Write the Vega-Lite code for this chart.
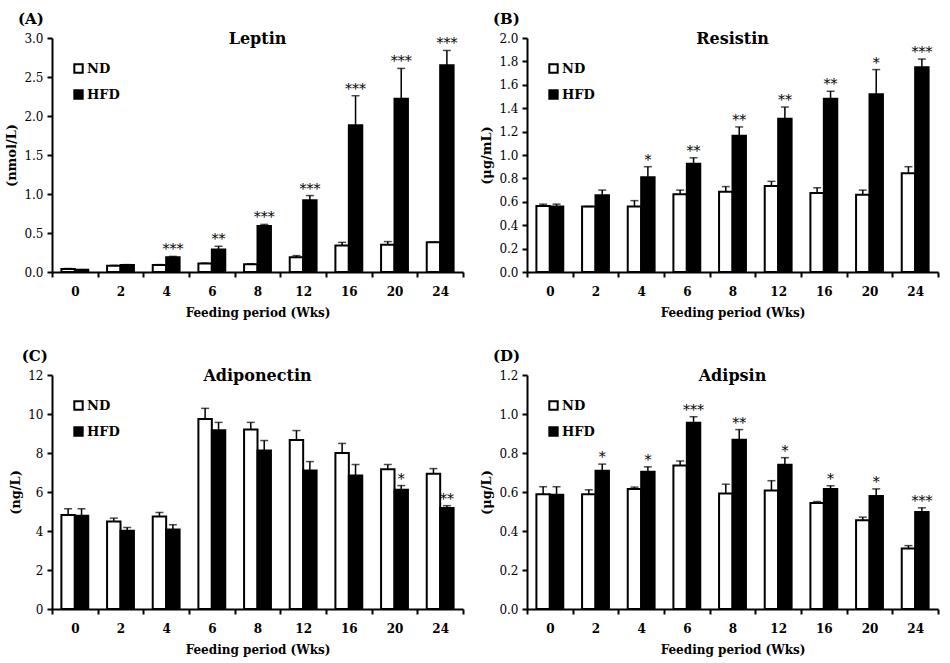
{
  "$schema": "https://vega.github.io/schema/vega-lite/v6.json",
  "background": "white",
  "padding": {"left": 5, "top": 12, "right": 5, "bottom": 2},
  "datasets": {
    "leptin": [
      {"wk": 0, "grp": "ND", "mean": 0.04, "upper": 0.045, "sig": ""},
      {"wk": 0, "grp": "HFD", "mean": 0.03, "upper": 0.03, "sig": ""},
      {"wk": 2, "grp": "ND", "mean": 0.08, "upper": 0.085, "sig": ""},
      {"wk": 2, "grp": "HFD", "mean": 0.09, "upper": 0.095, "sig": ""},
      {"wk": 4, "grp": "ND", "mean": 0.09, "upper": 0.095, "sig": ""},
      {"wk": 4, "grp": "HFD", "mean": 0.19, "upper": 0.2, "sig": "***"},
      {"wk": 6, "grp": "ND", "mean": 0.11, "upper": 0.115, "sig": ""},
      {"wk": 6, "grp": "HFD", "mean": 0.29, "upper": 0.33, "sig": "**"},
      {"wk": 8, "grp": "ND", "mean": 0.1, "upper": 0.105, "sig": ""},
      {"wk": 8, "grp": "HFD", "mean": 0.59, "upper": 0.61, "sig": "***"},
      {"wk": 12, "grp": "ND", "mean": 0.19, "upper": 0.21, "sig": ""},
      {"wk": 12, "grp": "HFD", "mean": 0.92, "upper": 0.98, "sig": "***"},
      {"wk": 16, "grp": "ND", "mean": 0.34, "upper": 0.38, "sig": ""},
      {"wk": 16, "grp": "HFD", "mean": 1.88, "upper": 2.26, "sig": "***"},
      {"wk": 20, "grp": "ND", "mean": 0.35, "upper": 0.39, "sig": ""},
      {"wk": 20, "grp": "HFD", "mean": 2.22, "upper": 2.61, "sig": "***"},
      {"wk": 24, "grp": "ND", "mean": 0.38, "upper": 0.385, "sig": ""},
      {"wk": 24, "grp": "HFD", "mean": 2.65, "upper": 2.84, "sig": "***"}
    ],
    "resistin": [
      {"wk": 0, "grp": "ND", "mean": 0.565, "upper": 0.58, "sig": ""},
      {"wk": 0, "grp": "HFD", "mean": 0.56, "upper": 0.58, "sig": ""},
      {"wk": 2, "grp": "ND", "mean": 0.56, "upper": 0.56, "sig": ""},
      {"wk": 2, "grp": "HFD", "mean": 0.655, "upper": 0.7, "sig": ""},
      {"wk": 4, "grp": "ND", "mean": 0.56, "upper": 0.61, "sig": ""},
      {"wk": 4, "grp": "HFD", "mean": 0.81, "upper": 0.9, "sig": "*"},
      {"wk": 6, "grp": "ND", "mean": 0.665, "upper": 0.7, "sig": ""},
      {"wk": 6, "grp": "HFD", "mean": 0.925, "upper": 0.976, "sig": "**"},
      {"wk": 8, "grp": "ND", "mean": 0.685, "upper": 0.73, "sig": ""},
      {"wk": 8, "grp": "HFD", "mean": 1.165, "upper": 1.24, "sig": "**"},
      {"wk": 12, "grp": "ND", "mean": 0.735, "upper": 0.775, "sig": ""},
      {"wk": 12, "grp": "HFD", "mean": 1.31, "upper": 1.41, "sig": "**"},
      {"wk": 16, "grp": "ND", "mean": 0.675, "upper": 0.72, "sig": ""},
      {"wk": 16, "grp": "HFD", "mean": 1.48, "upper": 1.545, "sig": "**"},
      {"wk": 20, "grp": "ND", "mean": 0.66, "upper": 0.7, "sig": ""},
      {"wk": 20, "grp": "HFD", "mean": 1.52, "upper": 1.73, "sig": "*"},
      {"wk": 24, "grp": "ND", "mean": 0.845, "upper": 0.9, "sig": ""},
      {"wk": 24, "grp": "HFD", "mean": 1.75, "upper": 1.82, "sig": "***"}
    ],
    "adiponectin": [
      {"wk": 0, "grp": "ND", "mean": 4.82, "upper": 5.14, "sig": ""},
      {"wk": 0, "grp": "HFD", "mean": 4.78, "upper": 5.14, "sig": ""},
      {"wk": 2, "grp": "ND", "mean": 4.49, "upper": 4.66, "sig": ""},
      {"wk": 2, "grp": "HFD", "mean": 4.01, "upper": 4.18, "sig": ""},
      {"wk": 4, "grp": "ND", "mean": 4.75, "upper": 4.95, "sig": ""},
      {"wk": 4, "grp": "HFD", "mean": 4.08, "upper": 4.32, "sig": ""},
      {"wk": 6, "grp": "ND", "mean": 9.74, "upper": 10.29, "sig": ""},
      {"wk": 6, "grp": "HFD", "mean": 9.17, "upper": 9.57, "sig": ""},
      {"wk": 8, "grp": "ND", "mean": 9.2, "upper": 9.57, "sig": ""},
      {"wk": 8, "grp": "HFD", "mean": 8.13, "upper": 8.64, "sig": ""},
      {"wk": 12, "grp": "ND", "mean": 8.67, "upper": 9.15, "sig": ""},
      {"wk": 12, "grp": "HFD", "mean": 7.1, "upper": 7.56, "sig": ""},
      {"wk": 16, "grp": "ND", "mean": 8.0, "upper": 8.49, "sig": ""},
      {"wk": 16, "grp": "HFD", "mean": 6.84, "upper": 7.41, "sig": ""},
      {"wk": 20, "grp": "ND", "mean": 7.17, "upper": 7.41, "sig": ""},
      {"wk": 20, "grp": "HFD", "mean": 6.12, "upper": 6.33, "sig": "*"},
      {"wk": 24, "grp": "ND", "mean": 6.93, "upper": 7.2, "sig": ""},
      {"wk": 24, "grp": "HFD", "mean": 5.18, "upper": 5.3, "sig": "**"}
    ],
    "adipsin": [
      {"wk": 0, "grp": "ND", "mean": 0.589, "upper": 0.627, "sig": ""},
      {"wk": 0, "grp": "HFD", "mean": 0.586, "upper": 0.627, "sig": ""},
      {"wk": 2, "grp": "ND", "mean": 0.589, "upper": 0.611, "sig": ""},
      {"wk": 2, "grp": "HFD", "mean": 0.709, "upper": 0.743, "sig": "*"},
      {"wk": 4, "grp": "ND", "mean": 0.615, "upper": 0.625, "sig": ""},
      {"wk": 4, "grp": "HFD", "mean": 0.704, "upper": 0.729, "sig": "*"},
      {"wk": 6, "grp": "ND", "mean": 0.736, "upper": 0.759, "sig": ""},
      {"wk": 6, "grp": "HFD", "mean": 0.955, "upper": 0.986, "sig": "***"},
      {"wk": 8, "grp": "ND", "mean": 0.592, "upper": 0.64, "sig": ""},
      {"wk": 8, "grp": "HFD", "mean": 0.868, "upper": 0.92, "sig": "**"},
      {"wk": 12, "grp": "ND", "mean": 0.608, "upper": 0.658, "sig": ""},
      {"wk": 12, "grp": "HFD", "mean": 0.74, "upper": 0.776, "sig": "*"},
      {"wk": 16, "grp": "ND", "mean": 0.543, "upper": 0.551, "sig": ""},
      {"wk": 16, "grp": "HFD", "mean": 0.615, "upper": 0.632, "sig": "*"},
      {"wk": 20, "grp": "ND", "mean": 0.455, "upper": 0.471, "sig": ""},
      {"wk": 20, "grp": "HFD", "mean": 0.58, "upper": 0.616, "sig": "*"},
      {"wk": 24, "grp": "ND", "mean": 0.31, "upper": 0.325, "sig": ""},
      {"wk": 24, "grp": "HFD", "mean": 0.498, "upper": 0.519, "sig": "***"}
    ]
  },
  "spacing": 31,
  "resolve": {"scale": {"y": "independent", "fill": "independent", "x": "independent", "xOffset": "independent"}, "legend": {"fill": "independent"}, "axis": {"x": "independent", "y": "independent"}},
  "vconcat": [
    {
      "spacing": 16,
      "resolve": {"scale": {"y": "independent", "fill": "independent", "x": "independent", "xOffset": "independent"}, "legend": {"fill": "independent"}, "axis": {"x": "independent", "y": "independent"}},
      "hconcat": [
        {
          "title": {"text": "\u00a0\u00a0\u00a0(A)", "anchor": "start", "frame": "bounds", "dx": 12, "fontSize": 15, "offset": 4},
          "vconcat": [
            {
              "width": 411, "height": 234,
              "title": {"text": "Leptin", "anchor": "middle", "offset": -15, "fontSize": 16},
              "data": {"name": "leptin"},
              "encoding": {
                "x": {"field": "wk", "type": "ordinal", "scale": {"paddingInner": 0, "paddingOuter": 0}, "axis": {"title": "Feeding period (Wks)"}},
                "xOffset": {"field": "grp", "type": "nominal", "sort": ["ND", "HFD"], "scale": {"paddingInner": 0, "paddingOuter": 0.7}},
                "y": {"field": "mean", "type": "quantitative", "scale": {"domain": [0, 3]}, "axis": {"title": "(nmol/L)", "values": [0, 0.5, 1, 1.5, 2, 2.5, 3], "format": ".1f"}}
              },
              "layer": [
                {"mark": {"type": "bar", "stroke": "black", "strokeWidth": 2}, "encoding": {"fill": {"field": "grp", "type": "nominal", "sort": ["ND", "HFD"], "scale": {"domain": ["ND", "HFD"], "range": ["white", "black"]}, "legend": {"title": null, "orient": "none", "legendX": 20, "legendY": 24}}}},
                {"mark": {"type": "rule", "color": "black", "strokeWidth": 1.5}, "encoding": {"y2": {"field": "upper"}}},
                {"mark": {"type": "tick", "color": "black", "size": 8, "thickness": 1.5, "orient": "horizontal"}, "encoding": {"y": {"field": "upper", "type": "quantitative"}}},
                {"mark": {"type": "text", "fontSize": 14, "baseline": "alphabetic", "dy": -2, "fill": "black"}, "encoding": {"y": {"field": "upper", "type": "quantitative"}, "text": {"field": "sig"}}}
              ]
            }
          ]
        },
        {
          "title": {"text": "\u00a0\u00a0\u00a0(B)", "anchor": "start", "frame": "bounds", "dx": 12, "fontSize": 15, "offset": 4},
          "vconcat": [
            {
              "width": 411, "height": 234,
              "title": {"text": "Resistin", "anchor": "middle", "offset": -15, "fontSize": 16},
              "data": {"name": "resistin"},
              "encoding": {
                "x": {"field": "wk", "type": "ordinal", "scale": {"paddingInner": 0, "paddingOuter": 0}, "axis": {"title": "Feeding period (Wks)"}},
                "xOffset": {"field": "grp", "type": "nominal", "sort": ["ND", "HFD"], "scale": {"paddingInner": 0, "paddingOuter": 0.7}},
                "y": {"field": "mean", "type": "quantitative", "scale": {"domain": [0, 2]}, "axis": {"title": "(μg/mL)", "values": [0, 0.2, 0.4, 0.6, 0.8, 1, 1.2, 1.4, 1.6, 1.8, 2], "format": ".1f"}}
              },
              "layer": [
                {"mark": {"type": "bar", "stroke": "black", "strokeWidth": 2}, "encoding": {"fill": {"field": "grp", "type": "nominal", "sort": ["ND", "HFD"], "scale": {"domain": ["ND", "HFD"], "range": ["white", "black"]}, "legend": {"title": null, "orient": "none", "legendX": 20, "legendY": 24}}}},
                {"mark": {"type": "rule", "color": "black", "strokeWidth": 1.5}, "encoding": {"y2": {"field": "upper"}}},
                {"mark": {"type": "tick", "color": "black", "size": 8, "thickness": 1.5, "orient": "horizontal"}, "encoding": {"y": {"field": "upper", "type": "quantitative"}}},
                {"mark": {"type": "text", "fontSize": 14, "baseline": "alphabetic", "dy": -2, "fill": "black"}, "encoding": {"y": {"field": "upper", "type": "quantitative"}, "text": {"field": "sig"}}}
              ]
            }
          ]
        }
      ]
    },
    {
      "spacing": 16,
      "resolve": {"scale": {"y": "independent", "fill": "independent", "x": "independent", "xOffset": "independent"}, "legend": {"fill": "independent"}, "axis": {"x": "independent", "y": "independent"}},
      "hconcat": [
        {
          "title": {"text": "\u00a0\u00a0\u00a0(C)", "anchor": "start", "frame": "bounds", "dx": 12, "fontSize": 15, "offset": 4},
          "vconcat": [
            {
              "width": 411, "height": 234,
              "title": {"text": "Adiponectin", "anchor": "middle", "offset": -15, "fontSize": 16},
              "data": {"name": "adiponectin"},
              "encoding": {
                "x": {"field": "wk", "type": "ordinal", "scale": {"paddingInner": 0, "paddingOuter": 0}, "axis": {"title": "Feeding period (Wks)"}},
                "xOffset": {"field": "grp", "type": "nominal", "sort": ["ND", "HFD"], "scale": {"paddingInner": 0, "paddingOuter": 0.7}},
                "y": {"field": "mean", "type": "quantitative", "scale": {"domain": [0, 12]}, "axis": {"title": "(ng/L)", "values": [0, 2, 4, 6, 8, 10, 12], "format": "d"}}
              },
              "layer": [
                {"mark": {"type": "bar", "stroke": "black", "strokeWidth": 2}, "encoding": {"fill": {"field": "grp", "type": "nominal", "sort": ["ND", "HFD"], "scale": {"domain": ["ND", "HFD"], "range": ["white", "black"]}, "legend": {"title": null, "orient": "none", "legendX": 20, "legendY": 24}}}},
                {"mark": {"type": "rule", "color": "black", "strokeWidth": 1.5}, "encoding": {"y2": {"field": "upper"}}},
                {"mark": {"type": "tick", "color": "black", "size": 8, "thickness": 1.5, "orient": "horizontal"}, "encoding": {"y": {"field": "upper", "type": "quantitative"}}},
                {"mark": {"type": "text", "fontSize": 14, "baseline": "alphabetic", "dy": -2, "fill": "black"}, "encoding": {"y": {"field": "upper", "type": "quantitative"}, "text": {"field": "sig"}}}
              ]
            }
          ]
        },
        {
          "title": {"text": "\u00a0\u00a0\u00a0(D)", "anchor": "start", "frame": "bounds", "dx": 12, "fontSize": 15, "offset": 4},
          "vconcat": [
            {
              "width": 411, "height": 234,
              "title": {"text": "Adipsin", "anchor": "middle", "offset": -15, "fontSize": 16},
              "data": {"name": "adipsin"},
              "encoding": {
                "x": {"field": "wk", "type": "ordinal", "scale": {"paddingInner": 0, "paddingOuter": 0}, "axis": {"title": "Feeding period (Wks)"}},
                "xOffset": {"field": "grp", "type": "nominal", "sort": ["ND", "HFD"], "scale": {"paddingInner": 0, "paddingOuter": 0.7}},
                "y": {"field": "mean", "type": "quantitative", "scale": {"domain": [0, 1.2]}, "axis": {"title": "(μg/L)", "values": [0, 0.2, 0.4, 0.6, 0.8, 1, 1.2], "format": ".1f"}}
              },
              "layer": [
                {"mark": {"type": "bar", "stroke": "black", "strokeWidth": 2}, "encoding": {"fill": {"field": "grp", "type": "nominal", "sort": ["ND", "HFD"], "scale": {"domain": ["ND", "HFD"], "range": ["white", "black"]}, "legend": {"title": null, "orient": "none", "legendX": 20, "legendY": 24}}}},
                {"mark": {"type": "rule", "color": "black", "strokeWidth": 1.5}, "encoding": {"y2": {"field": "upper"}}},
                {"mark": {"type": "tick", "color": "black", "size": 8, "thickness": 1.5, "orient": "horizontal"}, "encoding": {"y": {"field": "upper", "type": "quantitative"}}},
                {"mark": {"type": "text", "fontSize": 14, "baseline": "alphabetic", "dy": -2, "fill": "black"}, "encoding": {"y": {"field": "upper", "type": "quantitative"}, "text": {"field": "sig"}}}
              ]
            }
          ]
        }
      ]
    }
  ],
  "config": {
    "font": "DejaVu Serif",
    "view": {"stroke": null},
    "text": {"font": "DejaVu Serif"},
    "title": {"font": "DejaVu Serif", "fontWeight": "bold", "color": "black"},
    "axis": {"domainColor": "black", "domainWidth": 2, "tickColor": "black", "tickWidth": 2, "tickSize": 5, "labelColor": "black", "titleColor": "black", "labelFont": "DejaVu Serif", "titleFont": "DejaVu Serif", "titleFontSize": 12, "titleFontWeight": "bold", "grid": false, "labelFontSize": 12},
    "axisX": {"labelFontWeight": "bold", "labelAngle": 0, "tickBand": "extent", "titlePadding": 10, "labelPadding": 9},
    "axisY": {"titlePadding": 5, "labelPadding": 4, "titleFontSize": 13},
    "legend": {"labelFont": "DejaVu Serif", "labelFontSize": 13, "labelFontWeight": "bold", "labelColor": "black", "symbolType": "square", "symbolSize": 70, "symbolStrokeColor": "black", "symbolStrokeWidth": 2, "rowPadding": 9, "labelOffset": 2}
  }
}
